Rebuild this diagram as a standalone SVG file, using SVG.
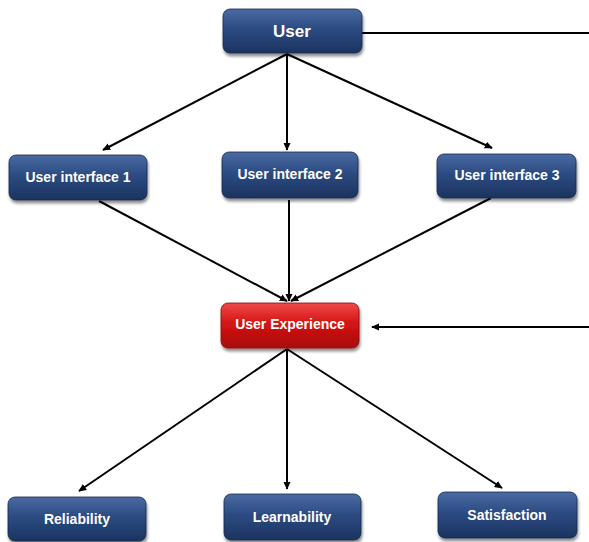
<svg xmlns="http://www.w3.org/2000/svg" width="589" height="542" viewBox="0 0 589 542">
<defs>
<linearGradient id="blue" x1="0" y1="0" x2="0" y2="1">
<stop offset="0" stop-color="#4a6aa3"/>
<stop offset="0.45" stop-color="#2c4b82"/>
<stop offset="1" stop-color="#1b335f"/>
</linearGradient>
<linearGradient id="red" x1="0" y1="0" x2="0" y2="1">
<stop offset="0" stop-color="#f04a4a"/>
<stop offset="0.45" stop-color="#d41414"/>
<stop offset="1" stop-color="#a80a0a"/>
</linearGradient>
<filter id="sh" x="-10%" y="-10%" width="125%" height="140%">
<feGaussianBlur in="SourceAlpha" stdDeviation="1.8"/>
<feOffset dx="1" dy="2.5" result="b"/>
<feComponentTransfer><feFuncA type="linear" slope="0.45"/></feComponentTransfer>
<feMerge><feMergeNode/><feMergeNode in="SourceGraphic"/></feMerge>
</filter>
<marker id="arr" viewBox="0 0 10 10" refX="9" refY="5" markerWidth="8" markerHeight="8" markerUnits="userSpaceOnUse" orient="auto">
<path d="M0,0.5 L10,5 L0,9.5 Z" fill="#000"/>
</marker>
</defs>
<style>
.box{fill:url(#blue);stroke:#15284a;stroke-width:0.8;filter:url(#sh)}
.rbox{fill:url(#red);stroke:#8a0808;stroke-width:0.8;filter:url(#sh)}
.t{font-family:"Liberation Sans",Arial,sans-serif;font-weight:bold;font-size:14px;fill:#fff;text-anchor:middle;dominant-baseline:central}
.big{font-size:17px}
.c{stroke:#000;stroke-width:2;fill:none}
</style>
<rect width="589" height="542" fill="#fff"/>
<g id="connectors">
<line class="c" x1="362" y1="33" x2="589" y2="33"/>
<line class="c" x1="589" y1="327" x2="372" y2="327" marker-end="url(#arr)"/>
<line class="c" x1="287" y1="54" x2="103" y2="150" marker-end="url(#arr)"/>
<line class="c" x1="287" y1="54" x2="287" y2="150" marker-end="url(#arr)"/>
<line class="c" x1="287" y1="54" x2="492" y2="148" marker-end="url(#arr)"/>
<line class="c" x1="99" y1="201" x2="287" y2="301" marker-end="url(#arr)"/>
<line class="c" x1="289" y1="200" x2="289" y2="301" marker-end="url(#arr)"/>
<line class="c" x1="491" y1="198" x2="291" y2="301" marker-end="url(#arr)"/>
<line class="c" x1="287" y1="349" x2="79" y2="491" marker-end="url(#arr)"/>
<line class="c" x1="287" y1="349" x2="287" y2="489" marker-end="url(#arr)"/>
<line class="c" x1="287" y1="349" x2="502" y2="488" marker-end="url(#arr)"/>
</g>
<g id="user"><rect class="box" x="223" y="9" width="139" height="44" rx="7"/><text class="t big" x="292" y="31">User</text></g>
<g id="ui1"><rect class="box" x="9" y="155" width="138" height="45" rx="7"/><text class="t" x="78" y="177">User interface 1</text></g>
<g id="ui2"><rect class="box" x="222" y="152" width="136" height="46" rx="7"/><text class="t" x="290" y="174">User interface 2</text></g>
<g id="ui3"><rect class="box" x="437" y="154" width="139" height="44" rx="7"/><text class="t" x="507" y="175">User interface 3</text></g>
<g id="ux"><rect class="rbox" x="221" y="303" width="138" height="45" rx="7"/><text class="t" x="290" y="324">User Experience</text></g>
<g id="reliability"><rect class="box" x="8" y="497" width="138" height="44" rx="7"/><text class="t" x="77" y="519">Reliability</text></g>
<g id="learnability"><rect class="box" x="224" y="494" width="137" height="46" rx="7"/><text class="t" x="292" y="517">Learnability</text></g>
<g id="satisfaction"><rect class="box" x="438" y="492" width="139" height="46" rx="7"/><text class="t" x="507" y="515">Satisfaction</text></g>
</svg>
